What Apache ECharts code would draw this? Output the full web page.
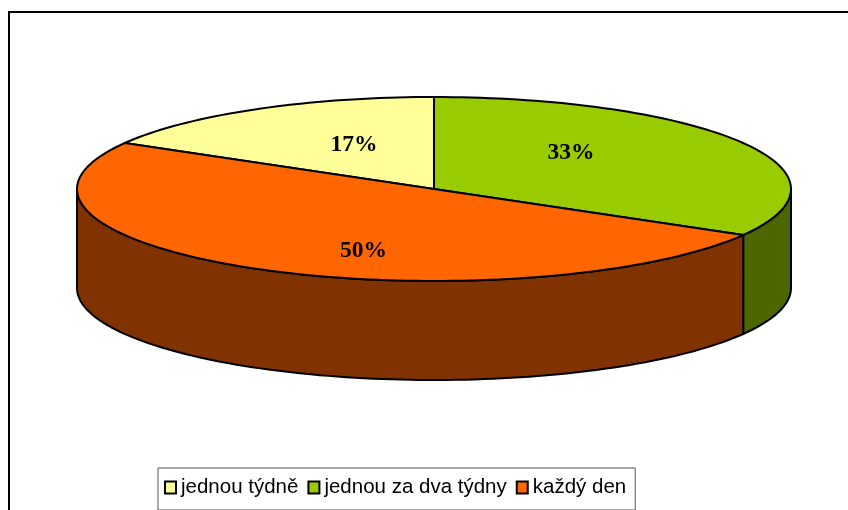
<!DOCTYPE html>
<html>
<head>
<meta charset="utf-8">
<style>html,body{margin:0;padding:0;background:#fff;overflow:hidden}#c{width:848px;height:510px}</style>
<script src="https://cdn.jsdelivr.net/npm/echarts@6/dist/echarts.min.js"></script>
</head>
<body>
<div id="c"></div>
<script>
const categories = ['jednou týdně', 'jednou za dva týdny', 'každý den'];
const values = [16.67, 33.33, 50];
const topColors = ['#FFFF99', '#99CC00', '#FF6600'];
const wallColors = ['#808050', '#4D6600', '#803300'];

const geo = { cx: 434, cy: 189, rx: 357, ry: 92, depth: 99 };
// label offset from the pie centre, as fractions of rx/ry along the slice's mid-angle
const labelFit = [[0.448, 0.552], [0.443, 0.783], [0.395, 0.778]];

const total = values.reduce((a, b) => a + b, 0);
const startDeg = -values[0] / total * 360;
const starts = values.map((_, i) =>
  startDeg + values.slice(0, i).reduce((a, b) => a + b, 0) / total * 360);

function pt(deg, dy) {
  const t = deg * Math.PI / 180;
  return [geo.cx + geo.rx * Math.sin(t), geo.cy - geo.ry * Math.cos(t) + (dy || 0)];
}
function arc(a, b, dy) {
  const n = Math.max(2, Math.ceil(Math.abs(b - a) / 1.5));
  const out = [];
  for (let i = 0; i <= n; i++) out.push(pt(a + (b - a) * i / n, dy));
  return out;
}
const edge = { stroke: '#000', lineWidth: 2, lineJoin: 'round' };

function renderSlice(idx) {
  return function (params, api) {
    const v = api.value(0);
    const a = starts[idx], b = a + v / total * 360;
    const mid = (a + b) / 2, t = mid * Math.PI / 180;
    const children = [];
    const wa = Math.max(a, 90), wb = Math.min(b, 270);
    if (wb > wa) {
      children.push({
        type: 'polygon',
        shape: { points: arc(wa, wb, 0).concat(arc(wb, wa, geo.depth)) },
        style: Object.assign({ fill: wallColors[idx] }, edge)
      });
    }
    children.push({
      type: 'polygon',
      shape: { points: [[geo.cx, geo.cy]].concat(arc(a, b, 0)) },
      style: Object.assign({ fill: topColors[idx] }, edge)
    });
    children.push({
      type: 'text',
      style: {
        x: geo.cx + geo.rx * Math.sin(t) * labelFit[idx][0],
        y: geo.cy - geo.ry * Math.cos(t) * labelFit[idx][1],
        text: Math.round(v / total * 100) + '%',
        fill: '#000',
        font: 'bold 23.5px "Liberation Serif"',
        align: 'center',
        verticalAlign: 'middle'
      }
    });
    return { type: 'group', children };
  };
}

const chart = echarts.init(document.getElementById('c'), null, { renderer: 'canvas' });
chart.setOption({
  animation: false,
  backgroundColor: '#fff',
  tooltip: { show: false },
  graphic: [{
    type: 'rect', silent: true, z: 0,
    shape: { x: 9, y: 12, width: 900, height: 600 },
    style: { fill: 'none', stroke: '#000', lineWidth: 2 }
  }],
  legend: {
    left: 158, top: 468,
    orient: 'horizontal',
    selectedMode: false,
    data: categories,
    icon: 'rect',
    itemWidth: 11, itemHeight: 12, itemGap: 9,
    itemStyle: { borderColor: '#000', borderWidth: 2 },
    textStyle: { fontFamily: '"Liberation Sans"', fontSize: 20.5, color: '#000' },
    backgroundColor: '#fff',
    borderColor: '#555', borderWidth: 1,
    padding: [9, 9, 12, 6]
  },
  series: categories.map((name, i) => ({
    type: 'custom',
    name,
    coordinateSystem: 'none',
    clip: false,
    silent: true,
    itemStyle: { color: topColors[i] },
    data: [[values[i]]],
    renderItem: renderSlice(i)
  }))
});
</script>
</body>
</html>
